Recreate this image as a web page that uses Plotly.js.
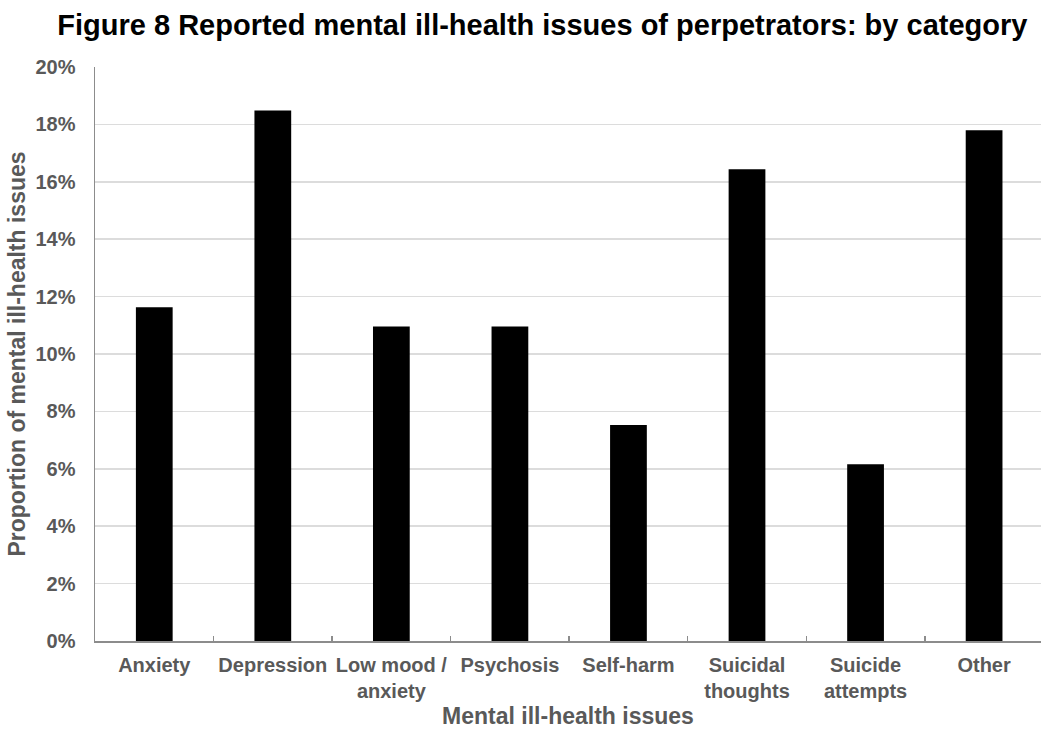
<!DOCTYPE html>
<html>
<head>
<meta charset="utf-8">
<script src="https://cdn.plot.ly/plotly-3.0.1.min.js"></script>
<style>
  html, body { margin: 0; padding: 0; background: #fff; }
  #chart { width: 1041px; height: 729px; }
</style>
</head>
<body>
<div id="chart"></div>
<script>
// Mental ill-health issues reported for perpetrators, share of all mentions (%)
const categories = [
  "Anxiety",
  "Depression",
  "Low mood /<br>anxiety",
  "Psychosis",
  "Self-harm",
  "Suicidal<br>thoughts",
  "Suicide<br>attempts",
  "Other"
];
const shares = [11.63, 18.48, 10.96, 10.96, 7.53, 16.44, 6.16, 17.80];
const yTickValues = [0, 2, 4, 6, 8, 10, 12, 14, 16, 18, 20];
const yTickLabels = ["0%", "2%", "4%", "6%", "8%", "10%", "12%", "14%", "16%", "18%", "20%"];

const FONT = "Liberation Sans, Arial, sans-serif";
const GREY_TEXT = "#595959";

const trace = {
  type: "bar",
  x: categories,
  y: shares,
  marker: { color: "#000000", line: { width: 0 } },
  hoverinfo: "x+y"
};

const layout = {
  width: 1041,
  height: 729,
  margin: { l: 95, r: 0, t: 67, b: 88 },
  paper_bgcolor: "#ffffff",
  plot_bgcolor: "#ffffff",
  showlegend: false,
  bargap: 0.69,
  font: { family: FONT, color: GREY_TEXT },
  title: {
    text: "<b>Figure 8 Reported mental ill-health issues of perpetrators: by category</b>",
    font: { family: FONT, size: 29, color: "#000000" },
    xref: "container", x: 0.521, xanchor: "center",
    yref: "container", y: 1 - 25 / 729, yanchor: "middle"
  },
  xaxis: {
    type: "category",
    range: [-0.5, 7.48],
    showline: true,
    linecolor: "#8c8c8c",
    linewidth: 1.5,
    ticks: "inside",
    tickson: "boundaries",
    ticklen: 5,
    tickcolor: "#8c8c8c",
    tickwidth: 1.5,
    showgrid: false,
    zeroline: false,
    tickangle: 0,
    tickfont: { family: FONT, size: 20, color: GREY_TEXT, weight: "bold" },
    ticklabelstandoff: 5,
    automargin: false,
    title: {
      text: "<b>Mental ill-health issues</b>",
      font: { family: FONT, size: 23, color: GREY_TEXT },
      standoff: 10
    },
    fixedrange: true
  },
  yaxis: {
    range: [0, 20],
    tickvals: yTickValues,
    ticktext: yTickLabels,
    showline: true,
    linecolor: "#8c8c8c",
    linewidth: 1.5,
    ticks: "",
    showgrid: true,
    gridcolor: "#dcdcdc",
    gridwidth: 1.5,
    zeroline: false,
    tickfont: { family: FONT, size: 20, color: GREY_TEXT, weight: "bold" },
    ticklabelstandoff: 14,
    automargin: false,
    title: {
      text: "<b>Proportion of mental ill-health issues</b>",
      font: { family: FONT, size: 23, color: GREY_TEXT },
      standoff: 3
    },
    fixedrange: true
  }
};

Plotly.newPlot("chart", [trace], layout, { displayModeBar: false, staticPlot: true });
</script>
</body>
</html>
